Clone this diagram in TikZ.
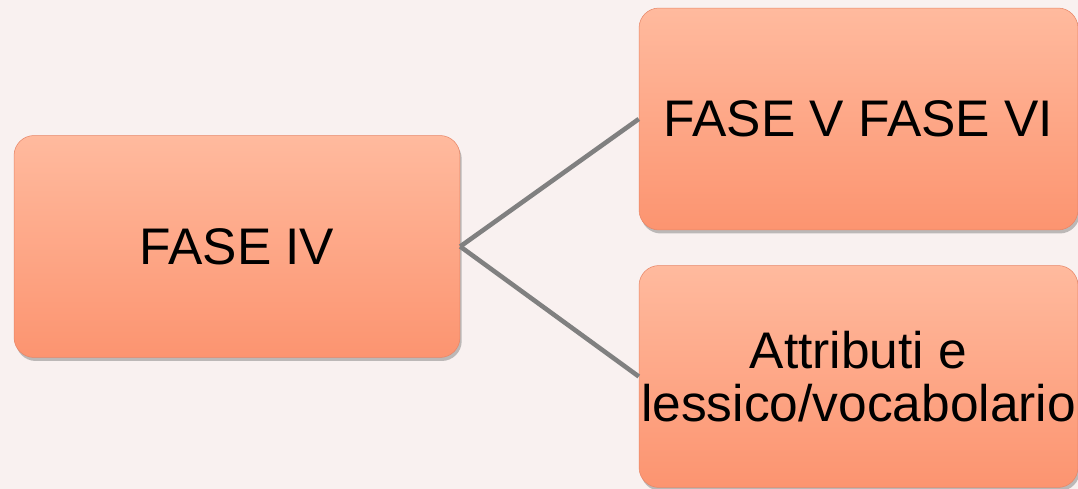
\documentclass[tikz,border=0pt]{standalone}
\usepackage{fontspec}
\setmainfont{Liberation Sans}
\usetikzlibrary{shadows}
\definecolor{bgpink}{HTML}{F9F1F0}
\definecolor{phasetop}{HTML}{FFBA9E}
\definecolor{phasebot}{HTML}{FC9470}
\definecolor{phaseedge}{HTML}{E88667}
\definecolor{linkgray}{HTML}{808080}
\begin{document}
\begin{tikzpicture}[x=0.02cm,y=-0.02cm,
    phase/.style={rounded corners=0.4cm, top color=phasetop, bottom color=phasebot,
      draw=phaseedge, line width=0.3pt, inner sep=0pt,
      drop shadow={opacity=0.5, shadow xshift=1pt, shadow yshift=-2pt},
      font=\fontsize{29.3}{30.5}\selectfont},
    link/.style={draw=linkgray, line width=2.6pt}]
      \path[use as bounding box, fill=bgpink] (0,0) rectangle (1078,489);
      \draw
        (237,246.5) node[phase, minimum width=8.92cm, minimum height=4.44cm] (iv){FASE IV}
        (858.5,119) node[phase, minimum width=8.78cm, minimum height=4.44cm] (vvi){FASE V FASE VI}
        (858.5,376.5) node[phase, minimum width=8.78cm, minimum height=4.44cm, align=center] (attr){Attributi e\\lessico/vocabolario};
      \begin{scope}[-]
        \draw[link] (iv.east) to (vvi.west);
        \draw[link] (iv.east) to (attr.west);
      \end{scope}
    \end{tikzpicture}
\end{document}
